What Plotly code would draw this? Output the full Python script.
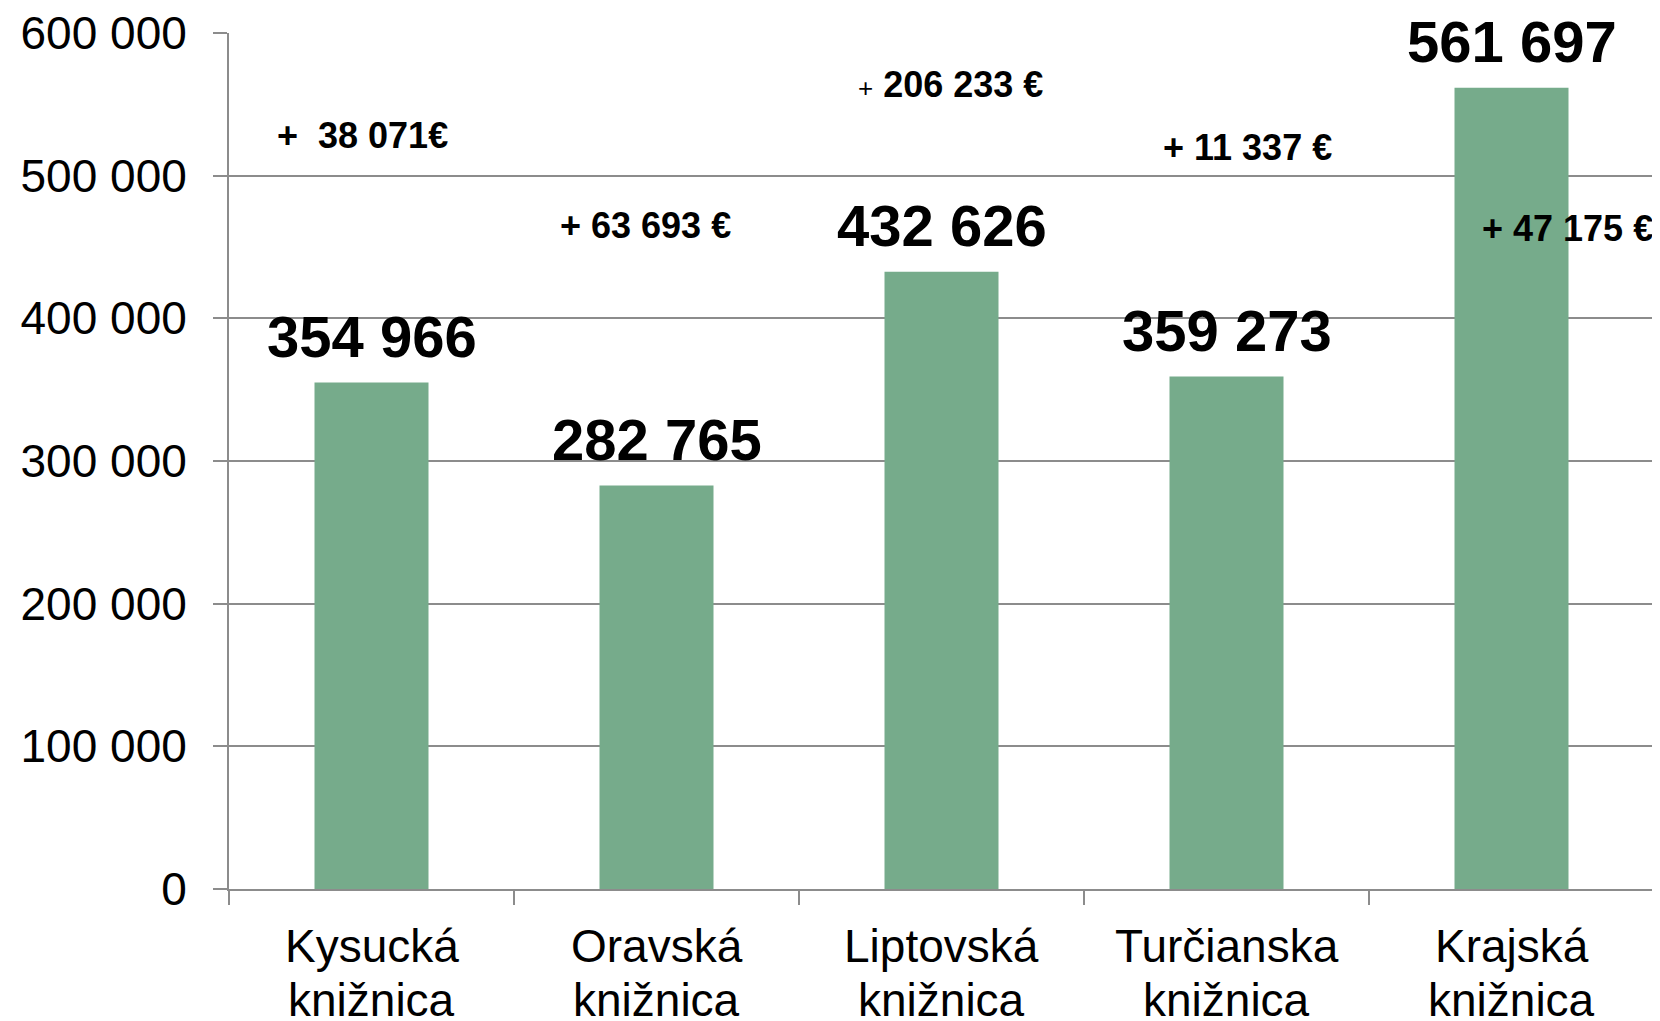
import plotly.graph_objects as go

# ---- data ----
categories = ["Kysucká<br>knižnica", "Oravská<br>knižnica", "Liptovská<br>knižnica",
              "Turčianska<br>knižnica", "Krajská<br>knižnica"]
values = [354966, 282765, 432626, 359273, 561697]
change_labels = ["+\u00a0 38 071€", "+ 63 693 €", "+ 206 233 €", "+ 11 337 €", "+ 47 175 €"]
y_ticks = [0, 100000, 200000, 300000, 400000, 500000, 600000]

# ---- style / layout constants ----
OFF = 8  # default page body margin in the browser
W, H = 1660 - OFF, 1021 - OFF
L, R, T, B = 229 - OFF, 6, 33 - OFF, 132
BAR_COLOR = "#76AB8B"
GRID = "#8C8C8C"
FONT = "Liberation Sans, Arial, sans-serif"

# page-pixel centres of the change annotations (layout only)
change_pos_px = [(362.5, 135.5), (645, 225.8), (950.5, 84), (1247, 147), (1567, 228)]
cat_line_shifts = [-57, -111]  # px below the x axis for the two lines of each category label


def fmt(v):
    return f"{v:,}".replace(",", " ")


fig = go.Figure(go.Bar(
    x=categories, y=values, marker_color=BAR_COLOR, marker_line_width=0,
    hoverinfo="skip",
))

plot_w = W - L - R
plot_h = H - T - B

annotations = []
for c, v in zip(categories, values):
    annotations.append(dict(
        x=c, y=v, xref="x", yref="y", text=f"<b>{fmt(v)}</b>", showarrow=False,
        xanchor="center", yanchor="middle", yshift=46,
        font=dict(family=FONT, size=58, color="black"),
    ))
    # category label lines (drawn as annotations for tighter line spacing)
    for line, ys in zip(c.split("<br>"), cat_line_shifts):
        annotations.append(dict(
            x=c, y=0, xref="x", yref="paper", text=line, showarrow=False,
            xanchor="center", yanchor="middle", yshift=ys,
            font=dict(family=FONT, size=46, color="black"),
        ))

for lab, (px, py) in zip(change_labels, change_pos_px):
    if lab.startswith("+ 206"):
        txt = "<span style='font-size:26px;font-weight:normal'>+</span><b>" + lab[1:] + "</b>"
    else:
        txt = f"<b>{lab}</b>"
    fx, fy = px - OFF, py - OFF
    annotations.append(dict(
        x=(fx - L) / plot_w, y=(H - B - fy) / plot_h, xref="paper", yref="paper",
        text=txt, showarrow=False, xanchor="center", yanchor="middle",
        font=dict(family=FONT, size=36, color="black"),
    ))

fig.update_layout(
    width=W, height=H,
    margin=dict(l=L, r=R, t=T, b=B, pad=0, autoexpand=False),
    paper_bgcolor="white", plot_bgcolor="white",
    separators=". ",
    bargap=0.6,
    showlegend=False,
    font=dict(family=FONT, size=46, color="black"),
    annotations=annotations,
    xaxis=dict(
        type="category", tickson="boundaries", ticks="outside", ticklen=14,
        tickwidth=2, tickcolor=GRID, showline=True, linecolor=GRID, linewidth=2,
        showgrid=False, showticklabels=False, automargin=False,
    ),
    yaxis=dict(
        range=[0, 600000], tickvals=y_ticks, ticktext=[fmt(v) for v in y_ticks],
        ticks="outside", ticklen=14, tickwidth=2, tickcolor=GRID,
        showline=True, linecolor=GRID, linewidth=2,
        showgrid=True, gridcolor=GRID, gridwidth=2, zeroline=False,
        tickfont=dict(family=FONT, size=46, color="black"),
        ticklabelstandoff=17, automargin=False, ticklabeloverflow="allow",
    ),
)

fig.write_html("out.html")
